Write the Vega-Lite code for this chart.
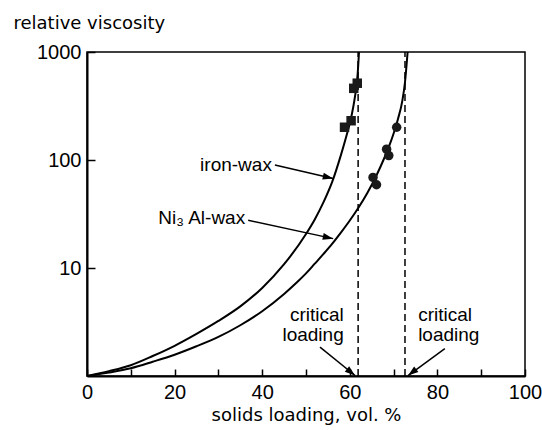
{
  "$schema": "https://vega.github.io/schema/vega-lite/v6.json",
  "width": 438,
  "height": 324,
  "autosize": "none",
  "padding": {"left": 87, "top": 52, "right": 17, "bottom": 54},
  "background": "white",
  "config": {
    "view": {"stroke": "black", "strokeWidth": 1.5},
    "font": "Liberation Sans",
    "axis": {
      "grid": false,
      "domainColor": "black",
      "domainWidth": 2,
      "tickColor": "black",
      "tickWidth": 1.5,
      "labelColor": "black",
      "titleColor": "black",
      "labelFont": "Liberation Sans",
      "titleFont": "DejaVu Sans",
      "titleFontWeight": "normal",
      "labelFlush": false,
      "labelOverlap": false
    }
  },
  "datasets": {
    "curves": [
      {"series": "iron-wax", "x": 0, "y": 1},
      {"series": "iron-wax", "x": 5, "y": 1.109},
      {"series": "iron-wax", "x": 10, "y": 1.259},
      {"series": "iron-wax", "x": 15, "y": 1.531},
      {"series": "iron-wax", "x": 20, "y": 1.905},
      {"series": "iron-wax", "x": 25, "y": 2.455},
      {"series": "iron-wax", "x": 30, "y": 3.236},
      {"series": "iron-wax", "x": 35, "y": 4.416},
      {"series": "iron-wax", "x": 40, "y": 6.531},
      {"series": "iron-wax", "x": 45, "y": 10.84},
      {"series": "iron-wax", "x": 50, "y": 20.65},
      {"series": "iron-wax", "x": 52, "y": 28.18},
      {"series": "iron-wax", "x": 54, "y": 40.74},
      {"series": "iron-wax", "x": 56, "y": 63.1},
      {"series": "iron-wax", "x": 58, "y": 112.2},
      {"series": "iron-wax", "x": 59, "y": 154.9},
      {"series": "iron-wax", "x": 60, "y": 218.8},
      {"series": "iron-wax", "x": 60.5, "y": 269.2},
      {"series": "iron-wax", "x": 61, "y": 346.7},
      {"series": "iron-wax", "x": 61.5, "y": 478.6},
      {"series": "iron-wax", "x": 61.8, "y": 631},
      {"series": "iron-wax", "x": 62.1, "y": 1000},
      {"series": "Ni3Al-wax", "x": 0, "y": 1},
      {"series": "Ni3Al-wax", "x": 5, "y": 1.076},
      {"series": "Ni3Al-wax", "x": 10, "y": 1.18},
      {"series": "Ni3Al-wax", "x": 15, "y": 1.355},
      {"series": "Ni3Al-wax", "x": 20, "y": 1.574},
      {"series": "Ni3Al-wax", "x": 25, "y": 1.884},
      {"series": "Ni3Al-wax", "x": 30, "y": 2.301},
      {"series": "Ni3Al-wax", "x": 35, "y": 2.951},
      {"series": "Ni3Al-wax", "x": 40, "y": 3.981},
      {"series": "Ni3Al-wax", "x": 45, "y": 5.754},
      {"series": "Ni3Al-wax", "x": 48, "y": 7.413},
      {"series": "Ni3Al-wax", "x": 50, "y": 8.913},
      {"series": "Ni3Al-wax", "x": 52, "y": 10.96},
      {"series": "Ni3Al-wax", "x": 54, "y": 13.49},
      {"series": "Ni3Al-wax", "x": 56, "y": 16.79},
      {"series": "Ni3Al-wax", "x": 58, "y": 21.38},
      {"series": "Ni3Al-wax", "x": 60, "y": 27.54},
      {"series": "Ni3Al-wax", "x": 62, "y": 36.31},
      {"series": "Ni3Al-wax", "x": 64, "y": 49.55},
      {"series": "Ni3Al-wax", "x": 66, "y": 70.79},
      {"series": "Ni3Al-wax", "x": 68, "y": 107.2},
      {"series": "Ni3Al-wax", "x": 69, "y": 134.9},
      {"series": "Ni3Al-wax", "x": 70, "y": 175.8},
      {"series": "Ni3Al-wax", "x": 71, "y": 239.9},
      {"series": "Ni3Al-wax", "x": 72, "y": 354.8},
      {"series": "Ni3Al-wax", "x": 72.6, "y": 524.8},
      {"series": "Ni3Al-wax", "x": 73.2, "y": 1000}
    ],
    "squares": [
      {"x": 58.8, "y": 201},
      {"x": 60.3, "y": 231},
      {"x": 60.9, "y": 461},
      {"x": 61.7, "y": 514}
    ],
    "circles": [
      {"x": 65.3, "y": 69},
      {"x": 66.1, "y": 59},
      {"x": 68.4, "y": 126},
      {"x": 68.9, "y": 110},
      {"x": 70.7, "y": 201}
    ],
    "critical": [
      {"x": 61.9, "y": 1, "y2": 1000},
      {"x": 72.6, "y": 1, "y2": 1000}
    ],
    "yminor": [
      {"y": 2}, {"y": 3}, {"y": 4}, {"y": 5}, {"y": 6}, {"y": 7}, {"y": 8}, {"y": 9},
      {"y": 20}, {"y": 30}, {"y": 40}, {"y": 50}, {"y": 60}, {"y": 70}, {"y": 80}, {"y": 90},
      {"y": 200}, {"y": 300}, {"y": 400}, {"y": 500}, {"y": 600}, {"y": 700}, {"y": 800}, {"y": 900}
    ],
    "ymajor": [
      {"y": 10}, {"y": 100}
    ],
    "arrows": [
      {"id": "iron", "x": 42.9, "y": 89.8, "x2": 56.2, "y2": 67.5},
      {"id": "ni", "x": 36.8, "y": 27.7, "x2": 56.2, "y2": 18.7},
      {"id": "critL", "x": 53.2, "y": 1.85, "x2": 61.2, "y2": 1.01},
      {"id": "critR", "x": 81.7, "y": 1.79, "x2": 73.3, "y2": 1.01}
    ],
    "labelsR": [
      {"text": "iron-wax", "x": 42.9, "y": 89.8},
      {"text": "Ni₃ Al-wax", "x": 36.8, "y": 28.9},
      {"text": "critical", "x": 59.3, "y": 3.64},
      {"text": "loading", "x": 59.3, "y": 2.38}
    ],
    "labelsL": [
      {"text": "critical", "x": 75.6, "y": 3.64},
      {"text": "loading", "x": 75.6, "y": 2.38}
    ]
  },
  "encoding": {
    "x": {
      "field": "x",
      "type": "quantitative",
      "scale": {"domain": [0, 100], "nice": false, "zero": false},
      "axis": {
        "title": "solids loading, vol. %",
        "titleFontSize": 18,
        "titleBaseline": "alphabetic",
        "titleY": 44,
        "values": [0, 10, 20, 30, 40, 50, 60, 70, 80, 90, 100],
        "labelExpr": "datum.value % 20 === 0 ? datum.label : ''",
        "tickSize": -7,
        "labelPadding": 13,
        "labelFontSize": 20
      }
    },
    "y": {
      "field": "y",
      "type": "quantitative",
      "scale": {"type": "log", "domain": [1, 1000], "nice": false},
      "axis": {
        "title": "relative viscosity",
        "titleFontSize": 18,
        "titleAngle": 0,
        "titleAlign": "left",
        "titleBaseline": "alphabetic",
        "titleX": -74,
        "titleY": -24,
        "values": [10, 100, 1000],
        "format": "d",
        "tickSize": -8,
        "labelPadding": 14,
        "labelFontSize": 20
      }
    }
  },
  "layer": [
    {
      "data": {"name": "yminor"},
      "mark": {"type": "rule", "color": "black", "strokeWidth": 1.3},
      "encoding": {"x": {"datum": 0}, "x2": {"datum": 1.15}}
    },
    {
      "data": {"name": "ymajor"},
      "mark": {"type": "rule", "color": "black", "strokeWidth": 1.5},
      "encoding": {"x": {"datum": 0}, "x2": {"datum": 1.9}}
    },
    {
      "data": {"name": "critical"},
      "mark": {"type": "rule", "color": "black", "strokeWidth": 1.5, "strokeDash": [7, 4]},
      "encoding": {"y2": {"field": "y2"}}
    },
    {
      "data": {"name": "curves"},
      "mark": {"type": "line", "color": "black", "strokeWidth": 2, "interpolate": "monotone", "clip": true},
      "encoding": {"detail": {"field": "series"}}
    },
    {
      "data": {"name": "squares"},
      "mark": {"type": "point", "shape": "square", "filled": true, "color": "#1a1a1a", "size": 90, "opacity": 1}
    },
    {
      "data": {"name": "circles"},
      "mark": {"type": "point", "shape": "circle", "filled": true, "color": "#1a1a1a", "size": 90, "opacity": 1}
    },
    {
      "data": {"name": "arrows"},
      "mark": {"type": "rule", "color": "black", "strokeWidth": 1.5},
      "encoding": {"x2": {"field": "x2"}, "y2": {"field": "y2"}}
    },
    {
      "data": {"name": "arrows"},
      "transform": [{"filter": "datum.id === 'iron'"}],
      "mark": {"type": "point", "shape": "M0,0L-1.2,-0.4L-1.2,0.4Z", "filled": true, "color": "black", "size": 300, "opacity": 1, "angle": 12.9},
      "encoding": {"x": {"field": "x2", "type": "quantitative"}, "y": {"field": "y2", "type": "quantitative"}}
    },
    {
      "data": {"name": "arrows"},
      "transform": [{"filter": "datum.id === 'ni'"}],
      "mark": {"type": "point", "shape": "M0,0L-1.2,-0.4L-1.2,0.4Z", "filled": true, "color": "black", "size": 300, "opacity": 1, "angle": 12.1},
      "encoding": {"x": {"field": "x2", "type": "quantitative"}, "y": {"field": "y2", "type": "quantitative"}}
    },
    {
      "data": {"name": "arrows"},
      "transform": [{"filter": "datum.id === 'critL'"}],
      "mark": {"type": "point", "shape": "M0,0L-1.2,-0.4L-1.2,0.4Z", "filled": true, "color": "black", "size": 300, "opacity": 1, "angle": 38.9},
      "encoding": {"x": {"field": "x2", "type": "quantitative"}, "y": {"field": "y2", "type": "quantitative"}}
    },
    {
      "data": {"name": "arrows"},
      "transform": [{"filter": "datum.id === 'critR'"}],
      "mark": {"type": "point", "shape": "M0,0L-1.2,-0.4L-1.2,0.4Z", "filled": true, "color": "black", "size": 300, "opacity": 1, "angle": 142.3},
      "encoding": {"x": {"field": "x2", "type": "quantitative"}, "y": {"field": "y2", "type": "quantitative"}}
    },
    {
      "data": {"name": "labelsR"},
      "mark": {"type": "text", "align": "right", "baseline": "middle", "fontSize": 19, "font": "Liberation Sans", "color": "black", "dx": -3},
      "encoding": {"text": {"field": "text"}}
    },
    {
      "data": {"name": "labelsL"},
      "mark": {"type": "text", "align": "left", "baseline": "middle", "fontSize": 19, "font": "Liberation Sans", "color": "black"},
      "encoding": {"text": {"field": "text"}}
    }
  ]
}
